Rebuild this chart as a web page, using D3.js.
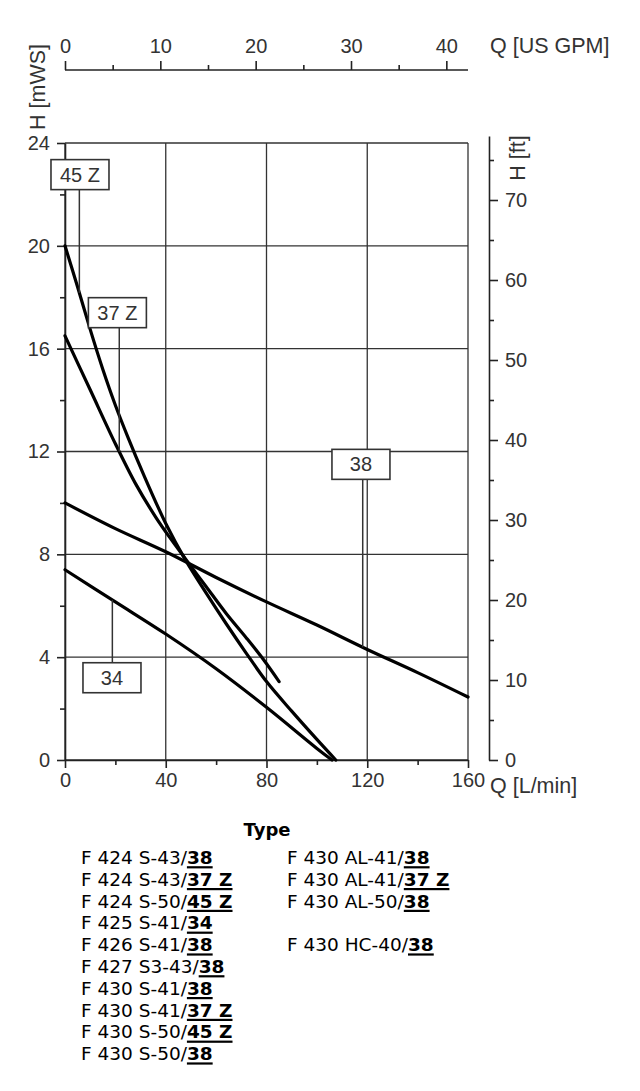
<!DOCTYPE html>
<html>
<head>
<meta charset="utf-8">
<script src="https://cdn.jsdelivr.net/npm/d3@7/dist/d3.min.js"></script>
<style>
  html, body { margin: 0; padding: 0; background: #fff; }
  svg { display: block; }
</style>
</head>
<body>
<svg id="chart" width="640" height="1091"></svg>
<script>
// ---------------- DATA ----------------
const curve45Z = [[0,20],[5,18.4],[10,16.75],[15,15.2],[20,13.8],[25,12.55],[31,11.15],[40,9.2],[48,7.75],[56,6.5],[64,5.3],[72,4.15],[80,3.05],[90,1.9],[100,0.8],[107.5,0]];
const curve37Z = [[0,16.5],[10,14.4],[20,12.3],[28,10.75],[36,9.45],[42,8.6],[48,7.8],[56,6.75],[64,5.7],[72,4.75],[79,3.88],[85,3.05]];
const curve38  = [[0,10],[20,9.0],[40,8.1],[60,7.1],[80,6.15],[100,5.25],[120,4.3],[140,3.4],[160,2.45]];
const curve34  = [[0,7.4],[20,6.15],[40,4.9],[60,3.55],[80,2.05],[100,0.45],[106,0]];

const qTicks = [0,40,80,120,160];
const qMinor = [20,60,100,140];
const hTicks = [0,4,8,12,16,20,24];
const hMinor = [2,6,10,14,18,22];
const gpmTicks = [0,10,20,30,40];
const gpmMinor = [5,15,25,35];
const ftTicks = [0,10,20,30,40,50,60,70];
const ftMinor = [5,15,25,35,45,55,65,75];

const legendTitle = "Type";
const legendLeft = [
  ["F 424 S-43/","38"],
  ["F 424 S-43/","37 Z"],
  ["F 424 S-50/","45 Z"],
  ["F 425 S-41/","34"],
  ["F 426 S-41/","38"],
  ["F 427 S3-43/","38"],
  ["F 430 S-41/","38"],
  ["F 430 S-41/","37 Z"],
  ["F 430 S-50/","45 Z"],
  ["F 430 S-50/","38"]
];
const legendRight = [
  ["F 430 AL-41/","38"],
  ["F 430 AL-41/","37 Z"],
  ["F 430 AL-50/","38"],
  null,
  ["F 430 HC-40/","38"]
];

// ---------------- LAYOUT ----------------
const L = 65, R = 468, T = 143, B = 760;
const svg = d3.select("#chart");
const axisFont = "'Liberation Sans', Arial, sans-serif";
const axisColor = "#333";

const qScale = d3.scaleLinear().domain([0,160]).range([L,R]);
const hScale = d3.scaleLinear().domain([0,24]).range([B,T]);
const gpmScale = d3.scaleLinear().domain([0,160/3.785]).range([L,R]);
const ftScale = d3.scaleLinear().domain([0,78]).range([B, B - 8*78]);

// grid
const grid = svg.append("g").attr("stroke", "#333").attr("stroke-width", 1.3);
qTicks.forEach(q => grid.append("line")
  .attr("x1", qScale(q)).attr("x2", qScale(q))
  .attr("y1", hScale(0)).attr("y2", hScale(24)));
hTicks.forEach(h => grid.append("line")
  .attr("x1", qScale(0)).attr("x2", qScale(160))
  .attr("y1", hScale(h)).attr("y2", hScale(h)));

function styleAxis(g) {
  g.selectAll("path.domain").attr("stroke", "#222").attr("stroke-width", 1.6);
  g.selectAll(".tick line").attr("stroke", "#222").attr("stroke-width", 1.6);
  g.selectAll(".tick text").attr("fill", axisColor)
    .style("font-family", axisFont).style("font-size", "20px");
}

// bottom axis
svg.append("g").attr("transform", `translate(0,${B})`)
  .call(d3.axisBottom(qScale).tickValues(qTicks).tickSize(8).tickSizeOuter(0).tickPadding(5))
  .call(styleAxis);
svg.append("g").attr("transform", `translate(0,${B})`)
  .call(d3.axisBottom(qScale).tickValues(qMinor).tickSize(5).tickFormat(""))
  .call(g => g.select("path.domain").remove())
  .call(styleAxis);

// left axis
svg.append("g").attr("transform", `translate(${L},0)`)
  .call(d3.axisLeft(hScale).tickValues(hTicks).tickSize(8).tickSizeOuter(0).tickPadding(7))
  .call(styleAxis);
svg.append("g").attr("transform", `translate(${L},0)`)
  .call(d3.axisLeft(hScale).tickValues(hMinor).tickSize(5).tickFormat(""))
  .call(g => g.select("path.domain").remove())
  .call(styleAxis);

// top axis (US GPM)
const topY = 70;
svg.append("g").attr("transform", `translate(0,${topY})`)
  .call(d3.axisTop(gpmScale).tickValues(gpmTicks).tickSize(9).tickSizeOuter(0).tickPadding(8))
  .call(styleAxis)
  .call(g => g.select("path.domain").attr("d", `M${L},0H${R}`));
svg.append("g").attr("transform", `translate(0,${topY})`)
  .call(d3.axisTop(gpmScale).tickValues(gpmMinor).tickSize(5).tickFormat(""))
  .call(g => g.select("path.domain").remove())
  .call(styleAxis);

// right axis (ft)
const rightX = 489;
svg.append("g").attr("transform", `translate(${rightX},0)`)
  .call(d3.axisRight(ftScale).tickValues(ftTicks).tickSize(9).tickSizeOuter(0).tickPadding(7))
  .call(styleAxis);
svg.append("g").attr("transform", `translate(${rightX},0)`)
  .call(d3.axisRight(ftScale).tickValues(ftMinor).tickSize(5).tickFormat(""))
  .call(g => g.select("path.domain").remove())
  .call(styleAxis);

// axis titles
const titleStyle = s => s.attr("fill", axisColor).style("font-family", axisFont).style("font-size", "21.5px");
svg.append("text").attr("x", 490).attr("y", 53).text("Q [US GPM]").call(titleStyle);
svg.append("text").attr("x", 490).attr("y", 793).text("Q [L/min]").call(titleStyle);
svg.append("text").attr("transform", "translate(45,87) rotate(-90)")
  .attr("text-anchor", "middle").text("H [mWS]").call(titleStyle);
svg.append("text").attr("transform", "translate(525,158) rotate(-90)")
  .attr("text-anchor", "middle").text("H [ft]").call(titleStyle);

// curves
const line = d3.line().x(d => qScale(d[0])).y(d => hScale(d[1])).curve(d3.curveCatmullRom.alpha(0.5));
const curves = [
  {name: "45 Z", data: curve45Z},
  {name: "37 Z", data: curve37Z},
  {name: "38", data: curve38},
  {name: "34", data: curve34}
];
svg.append("g").selectAll("path").data(curves).join("path")
  .attr("d", d => line(d.data))
  .attr("fill", "none").attr("stroke", "#000").attr("stroke-width", 3.2)
  .attr("stroke-linecap", "round").attr("stroke-linejoin", "round");

// label boxes with leaders
function interpH(data, q) {
  for (let i = 0; i < data.length - 1; i++) {
    const a = data[i], b = data[i+1];
    if (q >= a[0] && q <= b[0]) return a[1] + (b[1]-a[1]) * (q - a[0]) / (b[0]-a[0]);
  }
  return data[data.length-1][1];
}
const labelCfg = [
  {name: "45 Z", data: curve45Z, boxQ: 5.95, boxH: 22.77, leaderQ: 5.7},
  {name: "37 Z", data: curve37Z, boxQ: 20.8, boxH: 17.4, leaderQ: 21.55},
  {name: "38",   data: curve38,  boxQ: 117.5, boxH: 11.5, leaderQ: 118.2},
  {name: "34",   data: curve34,  boxQ: 18.65, boxH: 3.2, leaderQ: 18.8}
];
const boxW = 58, boxH = 30;
const lab = svg.append("g");
labelCfg.forEach(c => {
  const cx = qScale(c.boxQ), cy = hScale(c.boxH);
  const lx = qScale(c.leaderQ);
  const curveY = hScale(interpH(c.data, c.leaderQ));
  const edgeY = curveY > cy ? cy + boxH/2 : cy - boxH/2;
  lab.append("line").attr("x1", lx).attr("x2", lx).attr("y1", edgeY).attr("y2", curveY)
    .attr("stroke", "#333").attr("stroke-width", 1.5);
  lab.append("rect").attr("x", cx - boxW/2).attr("y", cy - boxH/2)
    .attr("width", boxW).attr("height", boxH)
    .attr("fill", "#fff").attr("stroke", "#333").attr("stroke-width", 1.6);
  lab.append("text").attr("x", cx).attr("y", cy + 7).attr("text-anchor", "middle")
    .attr("fill", axisColor).style("font-family", axisFont).style("font-size", "20px")
    .text(c.name);
});

// legend
const legFont = "'DejaVu Sans', Verdana, sans-serif";
svg.append("text").attr("x", 267).attr("y", 836).attr("text-anchor", "middle")
  .style("font-family", legFont).style("font-size", "18px").style("font-weight", "bold")
  .attr("fill", "#000").text(legendTitle);

const rowY = i => 864 + i * 21.8;
function drawColumn(rows, x0) {
  rows.forEach((r, i) => {
    if (!r) return;
    const y = rowY(i);
    const t1 = svg.append("text").attr("x", x0).attr("y", y)
      .style("font-family", legFont).style("font-size", "18.5px").attr("fill", "#000").text(r[0]);
    const w1 = t1.node().getComputedTextLength();
    const t2 = svg.append("text").attr("x", x0 + w1).attr("y", y)
      .style("font-family", legFont).style("font-size", "18.5px").style("font-weight", "bold")
      .attr("fill", "#000").text(r[1]);
    const w2 = t2.node().getComputedTextLength();
    svg.append("rect").attr("x", x0 + w1).attr("y", y + 2.2).attr("width", w2).attr("height", 2.2).attr("fill", "#000");
  });
}
drawColumn(legendLeft, 81);
drawColumn(legendRight, 287);
</script>
</body>
</html>
